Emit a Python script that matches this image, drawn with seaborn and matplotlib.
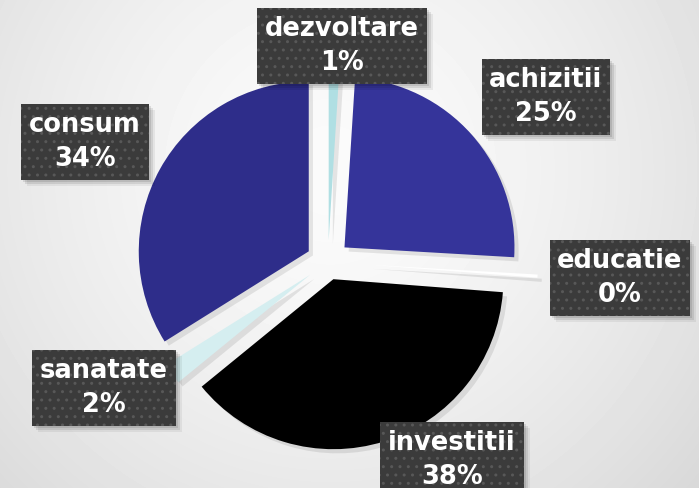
import numpy as np
import matplotlib.pyplot as plt
import seaborn as sns
from matplotlib import patheffects as pe
from matplotlib.patches import Rectangle

# data
categories = ["dezvoltare", "achizitii", "educatie", "investitii", "sanatate", "consum"]
shares = [1, 25, 0.3, 38, 2, 34]

# styling / layout (explode in pixels, since the axes is in pixel units)
colors = ["#b0dfe3", "#35349a", "#ffffff", "#000000", "#d5eef0", "#2e2d8a"]
explode = [22, 22, 40, 18, 22, 22]
label_pos = [(342, 46), (546, 97), (620, 278), (452, 460), (104, 388), (85, 142)]  # px, from top

sns.set_theme(style="white")
plt.rcParams['font.family'] = ['DejaVu Sans']

W, H = 699, 488
fig = plt.figure(figsize=(W / 100, H / 100), dpi=100)
ax = fig.add_axes([0, 0, 1, 1])

# soft radial background
yy, xx = np.mgrid[0:H, 0:W]
d = np.hypot(xx - 330, yy - 170) / 487
bg = 251 - 35 * d ** 1.5
ax.imshow(bg, cmap='gray', vmin=0, vmax=255, extent=(0, W, 0, H), zorder=0)

wedges, _ = ax.pie(shares, colors=colors, explode=explode, startangle=90,
                   counterclock=False, center=(328, H - 262), radius=170,
                   wedgeprops=dict(linewidth=0))
for w in wedges:
    w.set_zorder(2)
    w.set_path_effects([pe.SimplePatchShadow(offset=(3, -3), shadow_rgbFace='k', alpha=0.1),
                        pe.Normal()])

ax.set_xlim(0, W)
ax.set_ylim(0, H)
ax.set_aspect('equal')
ax.axis('off')

total = sum(shares)
labels = []
for name, v, (px, py) in zip(categories, shares, label_pos):
    txt = f"{name}\n{round(v / total * 100)}%"
    t = ax.text(px, H - py, txt, color='white', zorder=4, ha='center', va='center',
                fontsize=18.5, fontweight='bold', linespacing=1.4,
                bbox=dict(boxstyle='square,pad=0.3', fc='#3b3b3b', ec='#585858', lw=0, hatch='..'))
    labels.append(t)

# soft drop shadow behind each label box
fig.canvas.draw()
for t in labels:
    bb = t.get_bbox_patch().get_window_extent()
    for off, a in [(2, 0.10), (4, 0.09), (6, 0.06)]:
        ax.add_patch(Rectangle((bb.x0 + off, bb.y0 - off), bb.width, bb.height,
                               fc='black', ec='none', alpha=a, zorder=3))

fig.savefig('out.png', dpi=100)
